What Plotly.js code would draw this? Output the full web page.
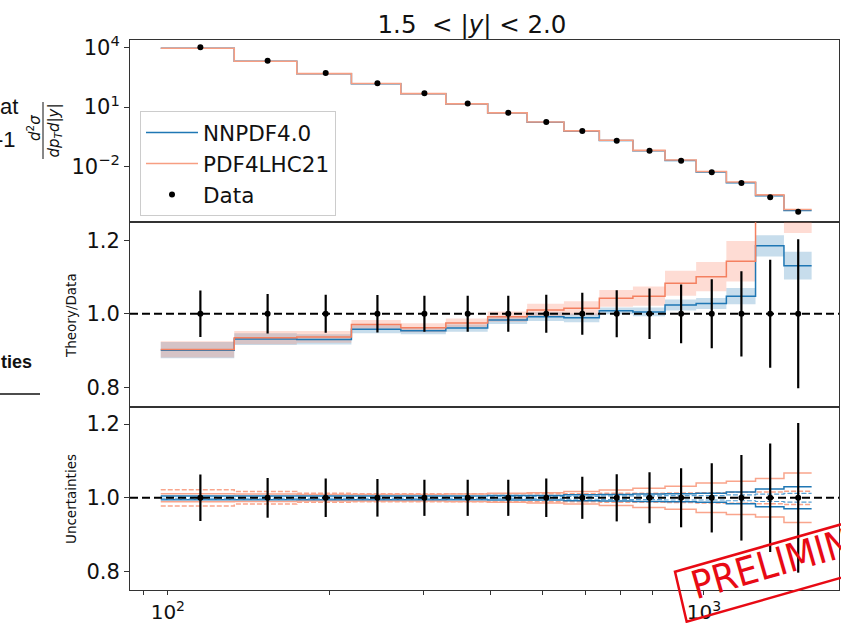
<!DOCTYPE html>
<html><head><meta charset="utf-8">
<script src="https://cdn.plot.ly/plotly-3.0.1.min.js"></script>
<style>html,body{margin:0;padding:0;background:#fff;}#plot{width:841px;height:623px;}</style>
</head><body><div id="plot"></div>
<script>
// ---- data ----
const binEdges = [97,133,174,220,272,330,395,468,548,638,737,846,967,1101,1248,1410,1588];
const binCenters = [115,153.5,197,246,301,362.5,431.5,508,593,687.5,791.5,906.5,1034,1174.5,1329,1499];
const dataXsec = [1.0e4,2.12e3,5.1e2,1.55e2,49,14.8,5.1,1.74,0.62,0.204,0.063,0.020,0.0052,0.0015,2.9e-4,5.5e-5];
const dataRelErr = [0.063,0.054,0.052,0.051,0.049,0.049,0.049,0.052,0.057,0.064,0.069,0.080,0.094,0.116,0.147,0.203];
const ratioNNPDF = [0.901,0.931,0.930,0.958,0.954,0.961,0.983,0.992,0.989,1.008,1.005,1.024,1.028,1.048,1.185,1.131];
const ratioPDF4LHC = [0.903,0.935,0.937,0.971,0.962,0.975,0.992,1.010,1.015,1.042,1.048,1.083,1.101,1.143,1.33,1.29];
const bandNNPDF = [0.022,0.016,0.014,0.011,0.010,0.010,0.011,0.012,0.012,0.009,0.012,0.015,0.015,0.022,0.029,0.038];
const bandPDF4LHC = [0.022,0.018,0.016,0.012,0.012,0.012,0.014,0.017,0.019,0.023,0.026,0.034,0.040,0.055,0.060,0.070];
const uncNNPDFsolid = [0.005,0.005,0.005,0.005,0.005,0.005,0.006,0.006,0.008,0.009,0.010,0.011,0.012,0.016,0.024,0.030];
const uncNNPDFdashed = [0.003,0.003,0.003,0.003,0.003,0.003,0.003,0.003,0.004,0.005,0.005,0.006,0.006,0.008,0.010,0.012];
const uncPDF4LHCsolid = [0.011,0.010,0.009,0.009,0.009,0.010,0.012,0.014,0.017,0.021,0.026,0.031,0.040,0.045,0.052,0.067];
const uncPDF4LHCdashed = [0.022,0.017,0.012,0.011,0.011,0.011,0.011,0.011,0.011,0.012,0.012,0.013,0.014,0.015,0.016,0.018];
const xTickVals = [90,100,200,300,400,500,600,700,800,900,1000];
const xTickLabels = ['','10<sup>2</sup>','','','','','','','','','10<sup>3</sup>'];
const yTopTickVals = [1e4,1e1,1e-2];
const yTopTickLabels = ['10<sup>4</sup>','10<sup>1</sup>','10<sup>\u22122</sup>'];
const ratioTickVals = [0.8,1.0,1.2];
const ratioTickLabels = ['0.8','1.0','1.2'];
const xRange = [85,1786];
const yTopRange = [-4.794,4.367];
const ratioRange = [0.747,1.249];
const uncRange = [0.75,1.247];

// ---- styles ----
const BLUE = '#1f77b4';
const SALMON = 'rgb(247,158,130)';
const SALMON_D = 'rgb(244,128,96)';
const SALMON_L = 'rgb(249,165,140)';
const FONT = 'DejaVu Sans, Verdana, sans-serif';

function step(v){ return v.concat([v[v.length-1]]); }
const mul = (a,b)=>a.map((v,i)=>v*b[i]);
const ones = dataXsec.map(v=>v/v);

const traces = [];
// top panel
traces.push({x:binEdges, y:step(mul(dataXsec,ratioNNPDF)), xaxis:'x', yaxis:'y', mode:'lines', line:{shape:'hv', color:BLUE, width:1.5}, name:'NNPDF4.0', legendgroup:'a'});
traces.push({x:binEdges, y:step(mul(dataXsec,ratioPDF4LHC)), xaxis:'x', yaxis:'y', mode:'lines', line:{shape:'hv', color:SALMON, width:1.6}, name:'PDF4LHC21', legendgroup:'b'});
traces.push({x:binCenters, y:dataXsec, xaxis:'x', yaxis:'y', mode:'markers', marker:{color:'black', size:6}, error_y:{type:'data', array:mul(dataXsec,dataRelErr), color:'black', thickness:2, width:0}, name:'Data', legendgroup:'c'});

// middle panel bands and lines
function band(ratio, half, color, ax){
  const lo = ratio.map((r,i)=>r-half[i]);
  const hi = ratio.map((r,i)=>r+half[i]);
  traces.push({x:binEdges, y:step(lo), xaxis:'x2', yaxis:ax, mode:'lines', line:{shape:'hv', width:0}, showlegend:false, hoverinfo:'skip'});
  traces.push({x:binEdges, y:step(hi), xaxis:'x2', yaxis:ax, mode:'lines', line:{shape:'hv', width:0}, fill:'tonexty', fillcolor:color, showlegend:false, hoverinfo:'skip'});
}
band(ratioNNPDF, bandNNPDF, 'rgba(31,119,180,0.25)', 'y2');
band(ratioPDF4LHC, bandPDF4LHC, 'rgba(250,128,100,0.28)', 'y2');
traces.push({x:binEdges, y:step(ratioNNPDF), xaxis:'x2', yaxis:'y2', mode:'lines', line:{shape:'hv', color:BLUE, width:1.5}, showlegend:false});
traces.push({x:binEdges, y:step(ratioPDF4LHC), xaxis:'x2', yaxis:'y2', mode:'lines', line:{shape:'hv', color:SALMON_D, width:1.5}, showlegend:false});
traces.push({x:binCenters, y:ones, xaxis:'x2', yaxis:'y2', mode:'markers', marker:{color:'black', size:6}, error_y:{type:'data', array:dataRelErr, color:'black', thickness:2.2, width:0}, showlegend:false});

// bottom panel uncertainty lines
function uncLines(u, color, dash, width){
  [1,-1].forEach(s=>{
    traces.push({x:binEdges, y:step(u.map(v=>1+s*v)), xaxis:'x3', yaxis:'y3', mode:'lines', line:{shape:'hv', color:color, width:width, dash:dash}, showlegend:false});
  });
}
uncLines(uncPDF4LHCdashed, SALMON_L, '5px,2px', 1.5);
uncLines(uncPDF4LHCsolid, SALMON_L, 'solid', 1.5);
uncLines(uncNNPDFsolid, BLUE, 'solid', 1.5);
uncLines(uncNNPDFdashed, 'rgb(90,160,210)', '5px,2px', 1.2);
traces.push({x:binCenters, y:ones, xaxis:'x3', yaxis:'y3', mode:'markers', marker:{color:'black', size:6}, error_y:{type:'data', array:dataRelErr, color:'black', thickness:2.2, width:0}, showlegend:false});

// helpers for layout placement (pixels -> paper)
const L=130, R=839, T=40, B=590;
const px = x => (x-L)/(R-L);
const py = y => (B-y)/(B-T);

const lineC = '#333';
const xBase = {type:'log', range:xRange.map(Math.log10), showline:true, mirror:true, linecolor:lineC, linewidth:1, showgrid:false, zeroline:false};
const yBase = {showline:true, mirror:true, linecolor:lineC, linewidth:1, showgrid:false, zeroline:false, ticks:'outside', ticklen:5, tickwidth:1, tickcolor:lineC, tickfont:{size:21, color:'#111'}};

const layout = {
  width:841, height:623,
  margin:{l:L, r:841-R, t:T, b:623-B, pad:0},
  paper_bgcolor:'white', plot_bgcolor:'white',
  font:{family:FONT, color:'#111'},
  title:{text:'1.5\u00a0\u00a0&lt; |<i>y</i>| &lt; 2.0', font:{size:24.5, color:'#111'}, xref:'container', yref:'container', x:472/841, xanchor:'center', y:1-24/623, yanchor:'middle'},
  showlegend:true,
  legend:{x:px(140), y:py(111), xanchor:'left', yanchor:'top', bgcolor:'rgba(255,255,255,0.85)', bordercolor:'#ccc', borderwidth:1, font:{size:21.5, color:'#111'}, tracegroupgap:0, traceorder:'normal', itemwidth:52},
  xaxis:Object.assign({}, xBase, {anchor:'y', matches:'x3', ticks:'', showticklabels:false}),
  xaxis2:Object.assign({}, xBase, {anchor:'y2', matches:'x3', ticks:'', showticklabels:false}),
  xaxis3:Object.assign({}, xBase, {anchor:'y3', ticks:'outside', ticklen:4, tickwidth:1, tickcolor:lineC, tickvals:xTickVals, ticktext:xTickLabels, tickfont:{size:20, color:'#111'}}),
  yaxis:Object.assign({}, yBase, {type:'log', domain:[py(222.3),1], range:yTopRange, tickvals:yTopTickVals, ticktext:yTopTickLabels}),
  yaxis2:Object.assign({}, yBase, {domain:[py(406.7),py(222.3)], range:ratioRange, tickvals:ratioTickVals, ticktext:ratioTickLabels}),
  yaxis3:Object.assign({}, yBase, {domain:[0,py(406.7)], range:uncRange, tickvals:ratioTickVals, ticktext:ratioTickLabels}),
  shapes:[
    {type:'line', xref:'x2 domain', yref:'y2', x0:0, x1:1, y0:1, y1:1, line:{color:'black', width:2, dash:'8px,4px'}},
    {type:'line', xref:'x3 domain', yref:'y3', x0:0, x1:1, y0:1, y1:1, line:{color:'black', width:2, dash:'8px,4px'}},
    {type:'line', xref:'paper', yref:'paper', x0:px(43), x1:px(43), y0:py(102), y1:py(159), line:{color:'#111', width:1}},
    {type:'line', xref:'paper', yref:'paper', x0:px(0), x1:px(40), y0:py(394), y1:py(394), line:{color:'#111', width:1.5}},
    {type:'path', xref:'paper', yref:'paper', path:`M${px(675)},${py(571.7)} L${px(963.5)},${py(489.5)} L${px(975.2)},${py(539.5)} L${px(686.7)},${py(621.7)} Z`, line:{color:'rgb(232,10,20)', width:2.5}}
  ],
  annotations:[
    {xref:'paper', yref:'paper', x:px(71), y:py(316), text:'Theory/Data', textangle:-90, showarrow:false, font:{size:13.5, color:'#111'}, xanchor:'center', yanchor:'middle'},
    {xref:'paper', yref:'paper', x:px(71), y:py(499), text:'Uncertainties', textangle:-90, showarrow:false, font:{size:13.5, color:'#111'}, xanchor:'center', yanchor:'middle'},
    {xref:'paper', yref:'paper', x:px(34), y:py(128), text:'<i>d</i><sup>2</sup><i>σ</i>', textangle:-90, showarrow:false, font:{size:15, color:'#111'}, xanchor:'center', yanchor:'middle'},
    {xref:'paper', yref:'paper', x:px(54), y:py(130.5), text:'<i>dp</i><sub><i>T</i></sub><i>d</i>|<i>y</i>|', textangle:-90, showarrow:false, font:{size:15, color:'#111'}, xanchor:'center', yanchor:'middle'},
    {xref:'paper', yref:'paper', x:px(20), y:py(106), text:'at', showarrow:false, font:{size:22, color:'#111', family:'Liberation Sans, Arial, sans-serif'}, xanchor:'right', yanchor:'middle'},
    {xref:'paper', yref:'paper', x:px(18), y:py(140), text:'-1', showarrow:false, font:{size:22, color:'#111', family:'Liberation Sans, Arial, sans-serif'}, xanchor:'right', yanchor:'middle'},
    {xref:'paper', yref:'paper', x:px(34), y:py(362), text:'<b>ties</b>', showarrow:false, font:{size:18, color:'#111', family:'Liberation Sans, Arial, sans-serif'}, xanchor:'right', yanchor:'middle'},
    {xref:'paper', yref:'paper', x:px(684), y:py(611), text:'PRELIMINARY', textangle:-16, showarrow:false, font:{size:39, color:'rgb(232,10,20)', family:'DejaVu Sans Condensed, Liberation Sans Narrow, DejaVu Sans, sans-serif'}, xanchor:'left', yanchor:'bottom'}
  ]
};

Plotly.newPlot('plot', traces, layout, {displayModeBar:false, staticPlot:true});
</script></body></html>
